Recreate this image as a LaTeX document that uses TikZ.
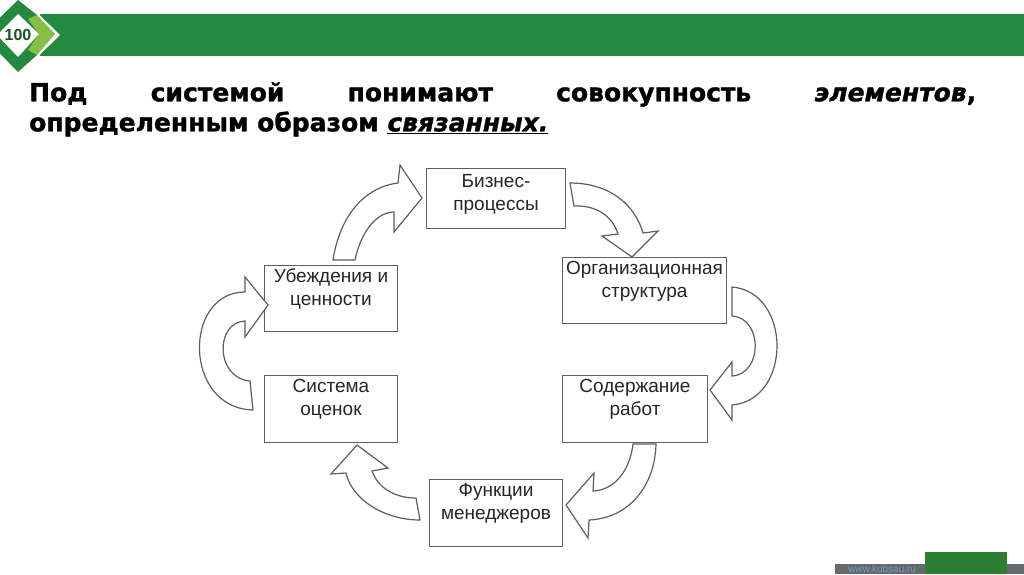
\documentclass[tikz,border=0pt]{standalone}
\usepackage{fontspec}
\setmainfont{Liberation Sans}
\newfontfamily\headfont[BoldFeatures={FakeBold=1.2},BoldItalicFeatures={FakeBold=1.2}]{DejaVu Sans}
\definecolor{barGreen}{HTML}{23893F}
\definecolor{leafGreen}{HTML}{86BF45}
\definecolor{footGreen}{HTML}{2C7F30}
\definecolor{footGray}{HTML}{666A6C}
\definecolor{footBlue}{HTML}{6F9CCB}
\definecolor{edgeGray}{HTML}{5E5E5E}
\tikzset{
  block/.style={draw=edgeGray, line width=1.9pt, fill=white, align=center, anchor=north west, inner sep=0pt, outer sep=0pt, xshift=0.5pt, yshift=-0.5pt},
  bendarrow/.style={draw=edgeGray, line width=1.2pt, fill=white, line join=miter}
}

\begin{document}
\begin{tikzpicture}[x=1pt, y=-1pt, every node/.style={font=\fontsize{19}{23}\selectfont, text=black!85}]
\useasboundingbox (0,0) rectangle (1024,574);
\fill[white] (0,0) rectangle (1024,574);

\fill[barGreen] (40,14) rectangle (1024,56);
\fill[white] (18,-6) -- (60,35) -- (18,76) -- (-24,35) -- cycle;
\fill[barGreen] (18,0) -- (37,15) -- (39,34) -- (37,55) -- (18,72) -- (-18,35) -- cycle;
\fill[leafGreen] (28,19) -- (37,15) -- (55,34) -- (37,55) -- (28,50) -- (39,34) -- cycle;
\fill[white] (18,14) -- (39,34) -- (18,57) -- (-3,35) -- cycle;
\node[font=\bfseries\fontsize{16}{16}\selectfont, text=barGreen!60!black, inner sep=0pt] (logo) at (18,35) {100};

\node[font=\headfont\bfseries\fontsize{25}{30}\selectfont, text=black, text width=947pt, align=justify, anchor=north west, inner sep=0pt] (title) at (29,82)
  {Под системой понимают совокупность \textit{элементов},\linebreak определенным образом \underline{\textit{связанных.}}};

\node[block, minimum width=139pt, minimum height=60pt] (business) at (426,168) {Бизнес-\\процессы\\[-11pt]};
\node[block, minimum width=164pt, minimum height=66pt] (structure) at (562,257) {Организационная\\структура\\};
\node[block, minimum width=133pt, minimum height=66pt] (values) at (264,265) {Убеждения и\\ценности\\};
\node[block, minimum width=133pt, minimum height=67pt] (rating) at (264,375) {Система\\оценок\\};
\node[block, minimum width=145pt, minimum height=67pt] (jobs) at (562,375) {Содержание\\работ\\};
\node[block, minimum width=133pt, minimum height=67pt] (managers) at (429,479) {Функции\\менеджеров\\};

\draw[bendarrow] (333,260) .. controls (340,215) and (365,187) .. (398,183) -- (400,165) -- (422,198) -- (394,232) -- (394,212) .. controls (375,212) and (360,235) .. (355,260) -- cycle;
\draw[bendarrow] (570,183) .. controls (610,183) and (635,205) .. (643,233) -- (658,231) -- (632,257) -- (602,236) -- (618,234) .. controls (612,215) and (595,205) .. (574,206) -- cycle;
\draw[bendarrow] (732,287) .. controls (792,292) and (792,400) .. (732,405) -- (732,420) -- (710,390) -- (732,362) -- (732,376) .. controls (763,374) and (763,318) .. (732,316) -- cycle;
\draw[bendarrow] (656,444) .. controls (655,485) and (630,518) .. (589,520) -- (588,538) -- (566,505) -- (594,473) -- (593,491) .. controls (615,490) and (630,470) .. (633,444) -- cycle;
\draw[bendarrow] (420,520) .. controls (385,520) and (352,500) .. (346,473) -- (331,474) -- (357,445) -- (388,468) -- (372,471) .. controls (378,488) and (395,498) .. (416,498) -- cycle;
\draw[bendarrow] (253,410) .. controls (183,408) and (183,292) .. (245,292) -- (245,277) -- (268,305) -- (245,337) -- (245,321) .. controls (215,322) and (215,378) .. (250,381) -- cycle;

\fill[footGray] (835,564) rectangle (1024,574);
\fill[footGreen] (925,552) rectangle (1007,574);
\node[font=\fontsize{10}{10}\selectfont, text=footBlue, anchor=west, inner sep=0pt] (site) at (848,569) {www.kubsau.ru};
\end{tikzpicture}
\end{document}
